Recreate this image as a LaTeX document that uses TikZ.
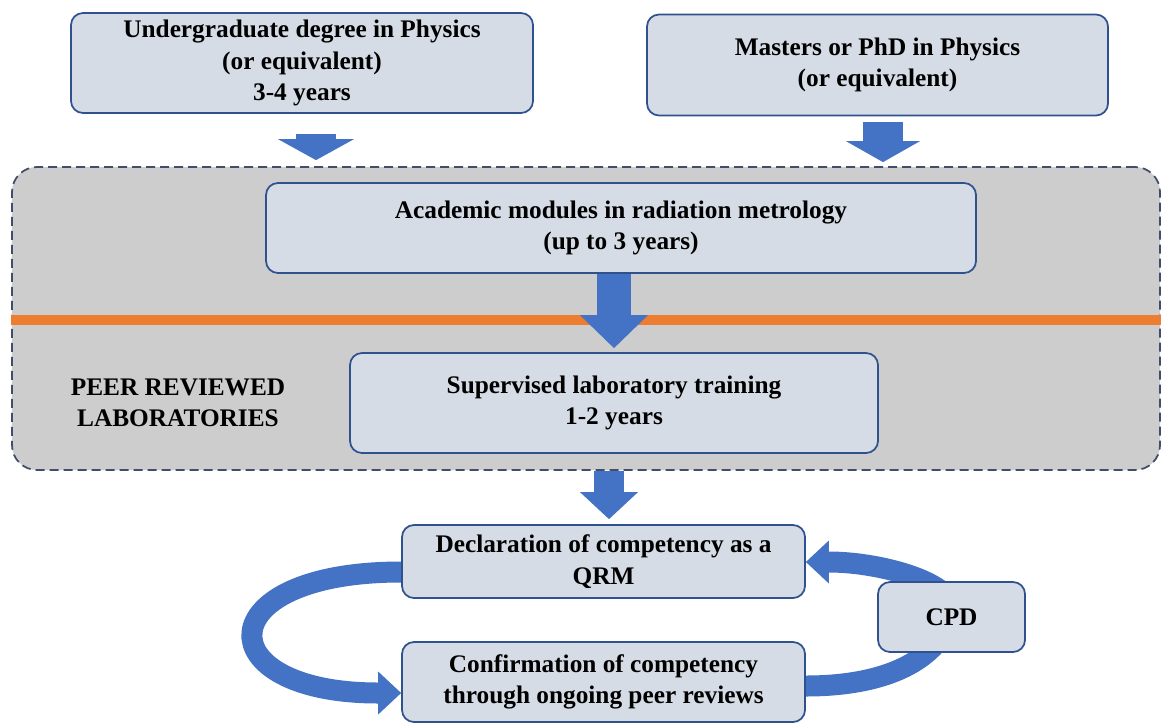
\documentclass[tikz,border=0pt]{standalone}
\usepackage{fontspec}
\setmainfont{Liberation Serif}
\usetikzlibrary{arrows.meta,backgrounds}

\definecolor{boxfill}{HTML}{D6DCE5}
\definecolor{boxedge}{HTML}{2F528F}
\definecolor{arrowblue}{HTML}{4472C4}
\definecolor{labfill}{HTML}{CDCDCD}
\definecolor{labedge}{HTML}{3F4F6A}
\definecolor{splitorange}{HTML}{ED7D31}

\begin{document}
\begin{tikzpicture}[
  box/.style={draw=boxedge, line width=1pt, fill=boxfill, rounded corners=0.24cm, align=center, inner sep=0pt, font=\fontsize{14.4}{18}\selectfont\bfseries},
  labblock/.style={draw=labedge, line width=1pt, dash pattern=on 0.18cm off 0.1cm, fill=labfill, rounded corners=0.5cm, minimum width=22.96cm, minimum height=6.06cm},
  blockarrow/.style n args={3}{arrowblue, line width=#1, -{Triangle[width=#2,length=#3,line width=0pt]}},
  cyclearrow/.style={arrowblue, line width=0.42cm, -{Triangle[width=0.86cm,length=0.46cm,line width=0pt]}}
]
\useasboundingbox (0,0) rectangle (23.24,-14.52);


%entry qualifications
\node[box, minimum width=9.24cm, minimum height=2cm] (ugrad) at (6.04,-1.26) {Undergraduate degree in Physics\\(or equivalent)\\3-4 years};
\node[box, minimum width=9.22cm, minimum height=2.02cm] (masters) at (17.55,-1.30) {Masters or PhD in Physics\\(or equivalent)};


%grey block of the laboratories, split by the orange line
\node[labblock] (lab) at (11.72,-6.37) {};
\draw[splitorange, line width=0.2cm] ([yshift=-0.03cm]lab.west) -- ([yshift=-0.03cm]lab.east);
\node[box, minimum width=14.2cm, minimum height=1.8cm] (modules) at (12.42,-4.56) {Academic modules in radiation metrology\\(up to 3 years)};
\node[box, minimum width=10.56cm, minimum height=2cm] (training) at (12.28,-8.06) {Supervised laboratory training\\1-2 years};
\node[align=center, font=\fontsize{14.4}{18}\selectfont\bfseries] (peer) at (3.56,-8.06) {PEER REVIEWED\\LABORATORIES};


%competency boxes and CPD
\node[box, minimum width=8.06cm, minimum height=1.46cm] (declare) at (12.07,-11.23) {Declaration of competency as a\\QRM};
\node[box, minimum width=8.06cm, minimum height=1.6cm] (confirm) at (12.07,-13.64) {Confirmation of competency\\through ongoing peer reviews};
\node[box, minimum width=2.94cm, minimum height=1.4cm] (cpd) at (19.03,-12.34) {CPD};


%straight block arrows
\draw[blockarrow={0.8cm}{1.52cm}{0.42cm}, shorten <=0.4cm, shorten >=0.12cm] ([xshift=0.28cm]ugrad.south) -- ([xshift=0.28cm]ugrad.south |- lab.north);
\draw[blockarrow={0.8cm}{1.48cm}{0.42cm}, shorten <=0.11cm, shorten >=0.08cm] ([xshift=0.11cm]masters.south) -- ([xshift=0.11cm]masters.south |- lab.north);
\draw[blockarrow={0.68cm}{1.36cm}{0.66cm}, shorten >=0.08cm] (modules.south -| training.north) -- (training.north);
\draw[blockarrow={0.6cm}{1.16cm}{0.54cm}, shorten >=0.1cm] ([xshift=0.11cm]declare.north |- lab.south) -- ([xshift=0.11cm]declare.north);


%the loop of declaration, confirmation and CPD
\begin{pgfonlayer}{background}
\fill[white] (0,0) rectangle (23.24,-14.52);
\draw[cyclearrow] ([yshift=-0.21cm]declare.west) .. controls +(-3.9,0) and +(-3.9,0) .. ([yshift=-0.22cm]confirm.west);
\draw[cyclearrow] ([yshift=-0.08cm]confirm.east) .. controls +(1.44,0) and +(-0.33,-0.96) .. (cpd.center) .. controls +(0.27,0.64) and +(1.54,0) .. ([yshift=-0.01cm]declare.east);
\end{pgfonlayer}
\end{tikzpicture}
\end{document}
